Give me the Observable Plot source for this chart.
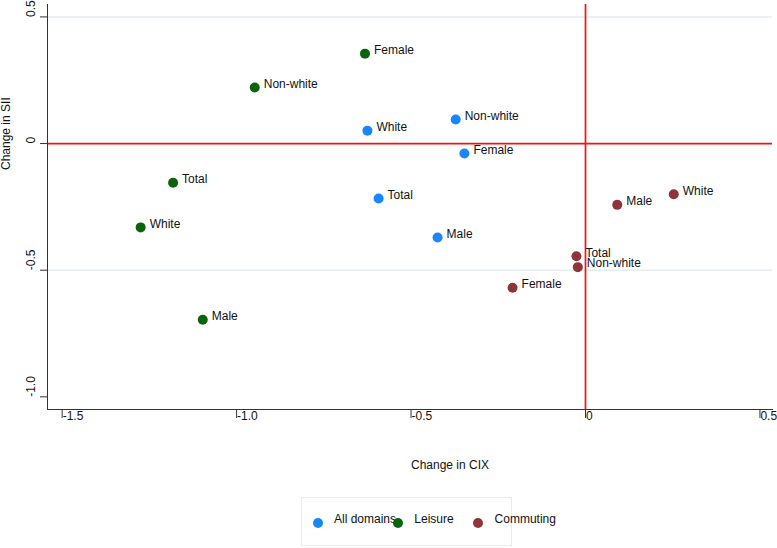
<!DOCTYPE html>
<html><head><meta charset="utf-8">
<script src="https://cdn.jsdelivr.net/npm/d3@7"></script>
<script src="https://cdn.jsdelivr.net/npm/@observablehq/plot@0.6"></script>
<style>
body{margin:0;background:#fff;font-family:"Liberation Sans",Arial,Helvetica,sans-serif;}
#chart{position:relative;width:777px;height:548px;}
#legend{position:absolute;left:301px;top:497px;width:211px;height:49px;border:1px solid #e3ecef;box-sizing:border-box;}
.ldot{position:absolute;width:10px;height:10px;border-radius:50%;}
.ltext{position:absolute;font-size:12px;color:#111;line-height:14px;white-space:nowrap;}
</style></head><body><div id="chart"></div>
<script>
const groups = ["All domains", "Leisure", "Commuting"];
const groupColors = ["#1a86fc", "#0b640b", "#8f3539"];

const allDomainsLabels = ["White", "Non-white", "Female", "Total", "Male"];
const allDomainsCIX = [-0.625, -0.372, -0.347, -0.593, -0.424];
const allDomainsSII = [0.051, 0.095, -0.039, -0.217, -0.371];

const leisureLabels = ["Female", "Non-white", "Total", "White", "Male"];
const leisureCIX = [-0.632, -0.948, -1.182, -1.275, -1.097];
const leisureSII = [0.355, 0.221, -0.155, -0.331, -0.696];

const commutingLabels = ["Male", "White", "Total", "Non-white", "Female"];
const commutingCIX = [0.091, 0.253, -0.026, -0.022, -0.209];
const commutingSII = [-0.242, -0.200, -0.445, -0.488, -0.569];

const xTicks = [-1.5, -1, -0.5, 0, 0.5];
const xTickLabels = ["-1.5", "-1.0", "-0.5", "0", "0.5"];
const yTicks = [0.5, 0, -0.5, -1];
const yTickLabels = ["0.5", "0", "-0.5", "-1.0"];
const gridValues = [0.5, -0.5];
const refLines = [0];
const xTitle = "Change in CIX";
const yTitle = "Change in SII";

function rowsOf(group, labels, xs, ys) {
  return labels.map((l, i) => ({group, label: l, cix: xs[i], sii: ys[i]}));
}
const rows = [
  ...rowsOf(groups[0], allDomainsLabels, allDomainsCIX, allDomainsSII),
  ...rowsOf(groups[1], leisureLabels, leisureCIX, leisureSII),
  ...rowsOf(groups[2], commutingLabels, commutingCIX, commutingSII)
];

const chart = Plot.plot({
  width: 777,
  height: 490,
  marginTop: 4,
  marginBottom: 81,
  marginLeft: 47,
  marginRight: 5,
  style: {fontFamily: '"Liberation Sans", Arial, Helvetica, sans-serif', color: "#222", background: "#fff"},
  x: {domain: [-1.542, 0.536]},
  y: {domain: [-1.05, 0.549]},
  color: {domain: groups, range: groupColors},
  marks: [
    Plot.ruleY(gridValues, {stroke: "#e4edf0", strokeWidth: 1.5}),
    Plot.ruleY(refLines, {stroke: "#f01414", strokeWidth: 1.7}),
    Plot.ruleX(refLines, {stroke: "#f01414", strokeWidth: 1.7}),
    Plot.frame({anchor: "left", stroke: "#333"}),
    Plot.frame({anchor: "bottom", stroke: "#333"}),
    Plot.axisX({ticks: xTicks, tickSize: 9, tickFormat: () => "", label: null, stroke: "#333"}),
    Plot.axisY({ticks: yTicks, tickSize: 7, tickFormat: () => "", label: null, stroke: "#333"}),
    Plot.text(xTicks, {x: d => d, text: (d, i) => xTickLabels[i], frameAnchor: "bottom", lineAnchor: "top", textAnchor: "start", dy: 2, dx: 0.5, fontSize: 12, fill: "#111"}),
    Plot.text(yTicks, {y: d => d, text: (d, i) => yTickLabels[i], frameAnchor: "left", rotate: -90, textAnchor: "start", lineAnchor: "middle", dx: -16, fontSize: 12, fill: "#111"}),
    Plot.text([xTitle], {text: d => d, frameAnchor: "bottom", lineAnchor: "middle", dy: 56, dx: 40, fontSize: 12, fill: "#111"}),
    Plot.text([yTitle], {text: d => d, frameAnchor: "left", rotate: -90, lineAnchor: "middle", dx: -41, dy: -37, fontSize: 12, fill: "#111"}),
    Plot.dot(rows, {x: "cix", y: "sii", fill: "group", r: 5, stroke: "none"}),
    Plot.text(rows, {x: "cix", y: "sii", text: "label", textAnchor: "start", dx: 9, dy: -3.5, fontSize: 12, fill: "#111"})
  ]
});

const container = document.getElementById("chart");
container.appendChild(chart);

const legend = document.createElement("div");
legend.id = "legend";
container.appendChild(legend);
groups.forEach((g, i) => {
  const dot = document.createElement("div");
  dot.className = "ldot";
  dot.style.background = groupColors[i];
  dot.style.left = (10.7 + 80.3 * i) + "px";
  dot.style.top = (20.3) + "px";
  legend.appendChild(dot);
  const t = document.createElement("div");
  t.className = "ltext";
  t.textContent = g;
  t.style.left = (32 + 80.3 * i) + "px";
  t.style.top = (14) + "px";
  legend.appendChild(t);
});
</script>
</body></html>
